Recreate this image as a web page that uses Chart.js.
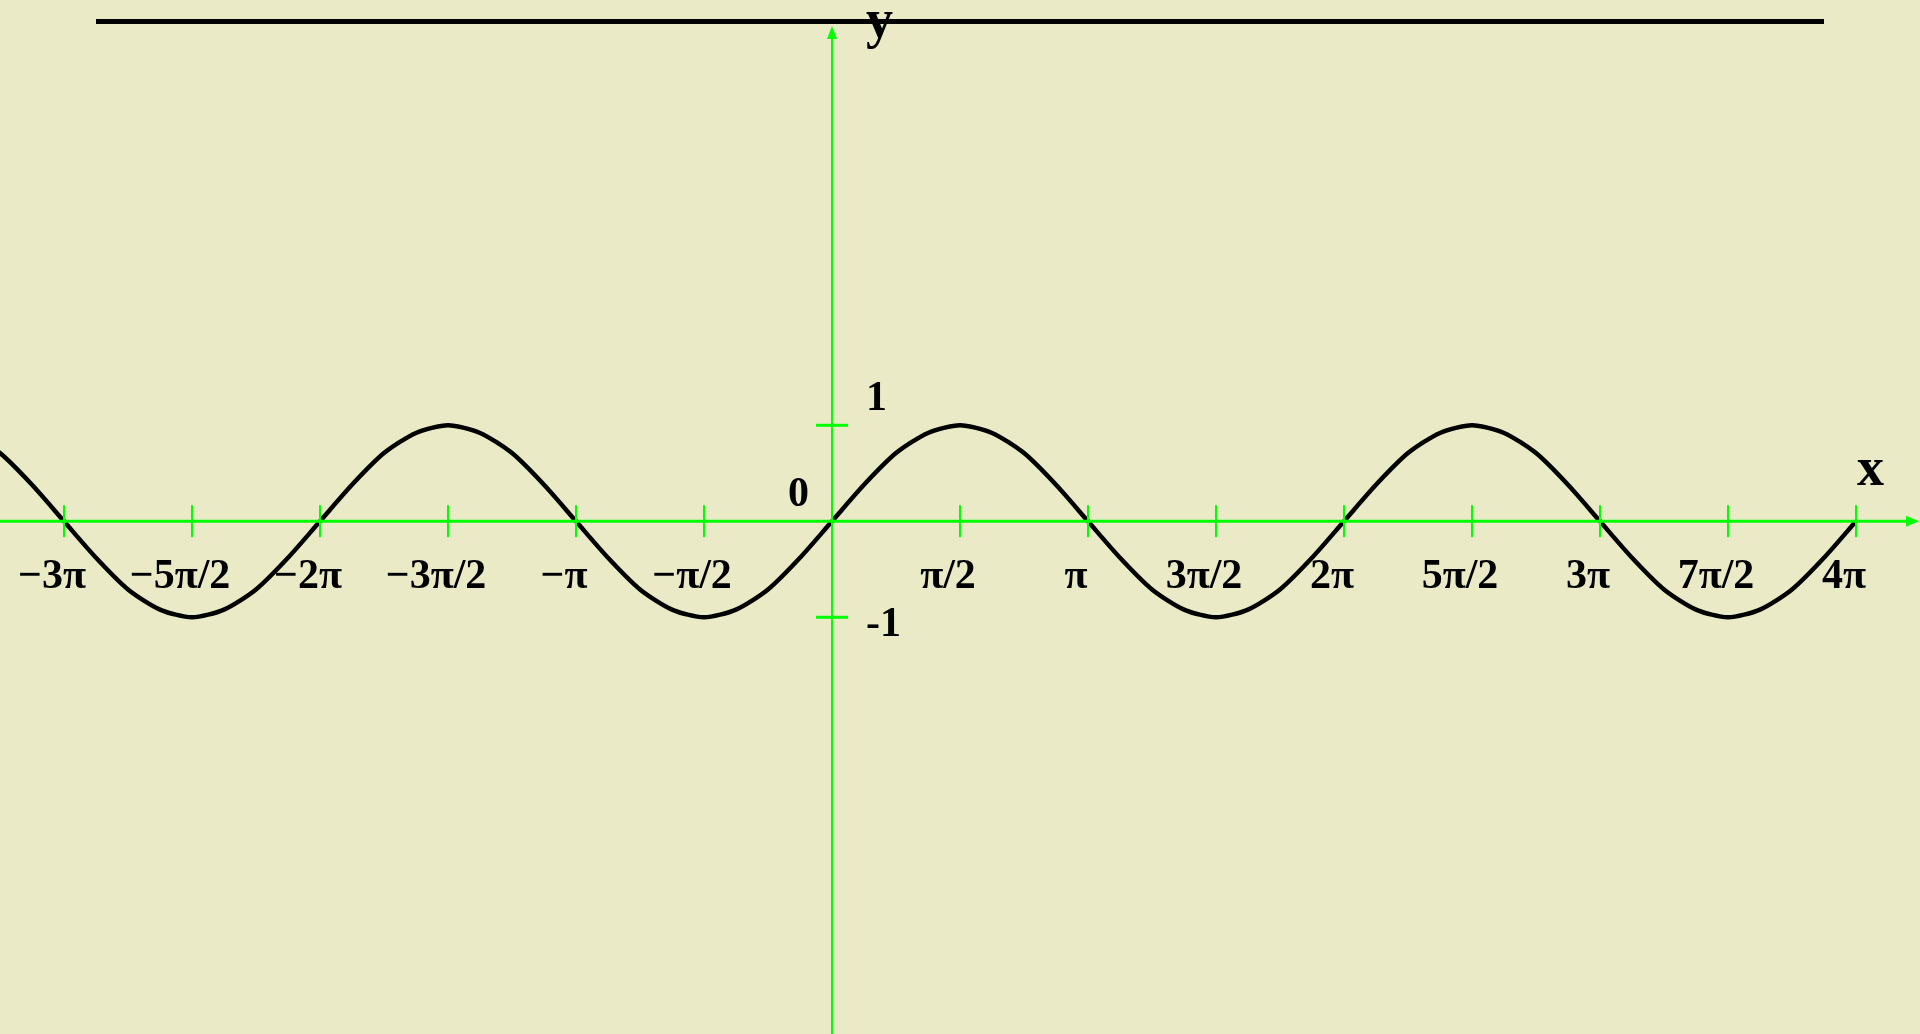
<!DOCTYPE html>
<html>
<head>
<meta charset="utf-8">
<title>y = sin x</title>
<script src="https://cdn.jsdelivr.net/npm/chart.js@4.4.1/dist/chart.umd.min.js"></script>
<style>
  html, body { margin: 0; padding: 0; background: #EBEAC7; overflow: hidden; }
  #wrap { width: 1920px; height: 1034px; }
</style>
</head>
<body>
<div id="wrap"><canvas id="sineChart" width="1920" height="1034"></canvas></div>
<script>
// ======================================================================
//  DATA (x in units of pi)
// ======================================================================
const CURVE_X = [
  -3.375, -3.25, -3.125, -3, -2.875, -2.75, -2.625, -2.5, -2.375, -2.25, -2.125,
  -2, -1.875, -1.75, -1.625, -1.5, -1.375, -1.25, -1.125,
  -1, -0.875, -0.75, -0.625, -0.5, -0.375, -0.25, -0.125,
  0, 0.125, 0.25, 0.375, 0.5, 0.625, 0.75, 0.875,
  1, 1.125, 1.25, 1.375, 1.5, 1.625, 1.75, 1.875,
  2, 2.125, 2.25, 2.375, 2.5, 2.625, 2.75, 2.875,
  3, 3.125, 3.25, 3.375, 3.5, 3.625, 3.75, 3.875,
  4
];
const CURVE_Y = [
  0.92, 0.71, 0.38, 0, -0.38, -0.71, -0.92, -1, -0.92, -0.71, -0.38,
  0, 0.38, 0.71, 0.92, 1, 0.92, 0.71, 0.38,
  0, -0.38, -0.71, -0.92, -1, -0.92, -0.71, -0.38,
  0, 0.38, 0.71, 0.92, 1, 0.92, 0.71, 0.38,
  0, -0.38, -0.71, -0.92, -1, -0.92, -0.71, -0.38,
  0, 0.38, 0.71, 0.92, 1, 0.92, 0.71, 0.38,
  0, -0.38, -0.71, -0.92, -1, -0.92, -0.71, -0.38,
  0
];

// black line along the top
const TOP_LINE_X = [-2.875, 3.875];
const TOP_LINE_Y = [5.206, 5.206];

const X_TICKS = [-3, -2.5, -2, -1.5, -1, -0.5, 0.5, 1, 1.5, 2, 2.5, 3, 3.5, 4];
const X_TICK_LABELS = ['−3π', '−5π/2', '−2π', '−3π/2', '−π', '−π/2', 'π/2', 'π', '3π/2', '2π', '5π/2', '3π', '7π/2', '4π'];
const Y_TICKS = [1, -1];
const Y_TICK_LABELS = ['1', '-1'];

const X_MIN = -3.25, X_MAX = 4.25;
const Y_MIN = -5.341, Y_MAX = 5.430;

const GREEN = '#00ff00';
const FONT = 'bold 42px "Liberation Serif", "Times New Roman", serif';
const AXIS_FONT = 'bold 54px "Liberation Serif", "Times New Roman", serif';

function toPoints(xs, ys) {
  return xs.map((x, i) => ({ x: x, y: ys[i] }));
}

// ======================================================================
// Axes plugin: green axes with arrows, ticks and labels
// ======================================================================
const axesPlugin = {
  id: 'greenAxes',
  afterDatasetsDraw(chart) {
    const ctx = chart.ctx;
    const sx = chart.scales.x;
    const sy = chart.scales.y;
    const ox = sx.getPixelForValue(0);
    const oy = sy.getPixelForValue(0);
    const W = chart.width, H = chart.height;

    ctx.save();
    ctx.strokeStyle = GREEN;
    ctx.fillStyle = GREEN;

    // x axis
    ctx.lineWidth = 3;
    ctx.beginPath();
    ctx.moveTo(0, oy);
    ctx.lineTo(W - 12, oy);
    ctx.stroke();
    ctx.beginPath();
    ctx.moveTo(W - 1, oy);
    ctx.lineTo(W - 14, oy - 5.5);
    ctx.lineTo(W - 14, oy + 5.5);
    ctx.closePath();
    ctx.fill();

    // y axis
    ctx.lineWidth = 2;
    ctx.beginPath();
    ctx.moveTo(ox, H);
    ctx.lineTo(ox, 36);
    ctx.stroke();
    ctx.beginPath();
    ctx.moveTo(ox, 26);
    ctx.lineTo(ox - 5, 39);
    ctx.lineTo(ox + 5, 39);
    ctx.closePath();
    ctx.fill();

    // x ticks
    ctx.lineWidth = 2;
    X_TICKS.forEach(v => {
      const px = sx.getPixelForValue(v);
      ctx.beginPath();
      ctx.moveTo(px, oy - 16);
      ctx.lineTo(px, oy + 16);
      ctx.stroke();
    });

    // y ticks
    ctx.lineWidth = 3;
    Y_TICKS.forEach(v => {
      const py = sy.getPixelForValue(v);
      ctx.beginPath();
      ctx.moveTo(ox - 16, py);
      ctx.lineTo(ox + 16, py);
      ctx.stroke();
    });

    // labels
    ctx.fillStyle = '#000';
    ctx.font = FONT;
    ctx.textBaseline = 'alphabetic';
    ctx.textAlign = 'center';
    X_TICKS.forEach((v, i) => {
      ctx.fillText(X_TICK_LABELS[i], sx.getPixelForValue(v) - 12, oy + 67);
    });

    ctx.textAlign = 'left';
    Y_TICKS.forEach((v, i) => {
      ctx.fillText(Y_TICK_LABELS[i], ox + 34, sy.getPixelForValue(v) + (v > 0 ? -15 : 19));
    });

    ctx.textAlign = 'right';
    ctx.fillText('0', ox - 23, oy - 15);

    ctx.font = AXIS_FONT;
    ctx.textAlign = 'left';
    ctx.fillText('x', W - 63, oy - 36);
    ctx.fillText('y', ox + 34, 37);

    ctx.restore();
  }
};

// ======================================================================
// Chart
// ======================================================================
const ctx = document.getElementById('sineChart').getContext('2d');

new Chart(ctx, {
  type: 'line',
  data: {
    datasets: [
      {
        label: 'sin x',
        data: toPoints(CURVE_X, CURVE_Y),
        borderColor: '#000',
        borderWidth: 4.5,
        tension: 0.25,
        pointRadius: 0,
        fill: false
      },
      {
        label: 'top',
        data: toPoints(TOP_LINE_X, TOP_LINE_Y),
        borderColor: '#000',
        borderWidth: 5,
        pointRadius: 0,
        borderCapStyle: 'butt',
        fill: false
      }
    ]
  },
  options: {
    responsive: false,
    animation: false,
    devicePixelRatio: 1,
    layout: { padding: 0 },
    scales: {
      x: { type: 'linear', min: X_MIN, max: X_MAX, display: false },
      y: { type: 'linear', min: Y_MIN, max: Y_MAX, display: false }
    },
    plugins: {
      legend: { display: false },
      tooltip: { enabled: false }
    }
  },
  plugins: [axesPlugin]
});
</script>
</body>
</html>
